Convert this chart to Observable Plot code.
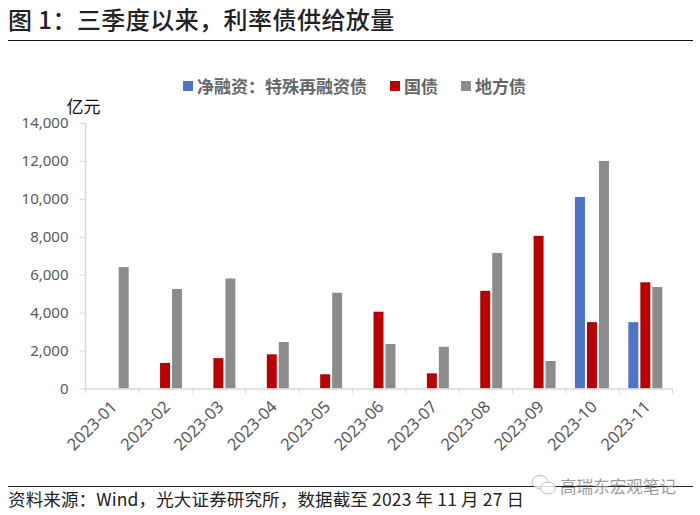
<!DOCTYPE html>
<html><head><meta charset="utf-8">
<script src="https://cdn.jsdelivr.net/npm/d3@7"></script>
<script src="https://cdn.jsdelivr.net/npm/@observablehq/plot@0.6"></script>
<style>
html,body{margin:0;padding:0;background:#fff;width:700px;height:515px;overflow:hidden}
body{position:relative;font-family:"Noto Sans CJK SC","Noto Sans",sans-serif}
#title{box-sizing:border-box;height:41px;margin:0 7px 0 8px;border-bottom:1.5px solid #111;font-size:24px;font-weight:500;line-height:37px;color:#222;letter-spacing:.45px;white-space:pre}
#legend{height:59px;display:flex;justify-content:flex-start;padding-left:183px;box-sizing:border-box;align-items:flex-start;padding-top:33px;font-size:17px;font-weight:700;color:#666;line-height:24px}
#legend span.i{display:flex;align-items:center;margin-right:23px}
#legend i{display:inline-block;width:10px;height:10px;margin-right:4px}
#chart{height:386px}
#chart svg{display:block}
#caption{box-sizing:border-box;margin:0 7px 0 8px;border-top:1.5px solid #222;font-size:17.5px;letter-spacing:.15px;line-height:23px;color:#222;white-space:pre}
#mark{position:absolute;left:530px;top:474px;display:flex;align-items:center;font-size:16.6px;color:#8c8c8c;opacity:.85;line-height:22px}
</style></head><body>
<div id="title">图 1：三季度以来，利率债供给放量</div>
<div id="legend"></div>
<div id="chart"></div>
<div id="caption">资料来源：Wind，光大证券研究所，数据截至 2023 年 11 月 27 日</div>
<div id="mark"><svg width="30" height="24" viewBox="0 0 30 24" fill="#fff" stroke="#b5b5b5" stroke-width="1"><ellipse cx="10" cy="8" rx="8" ry="6.5"/><ellipse cx="18" cy="14" rx="7.5" ry="6"/></svg><span>高瑞东宏观笔记</span></div>
<script>
const months = ["2023-01","2023-02","2023-03","2023-04","2023-05","2023-06","2023-07","2023-08","2023-09","2023-10","2023-11"];
const seriesNames = ["净融资：特殊再融资债","国债","地方债"];
const seriesColors = ["#4d74c8","#ba0000","#8c8c8c"];
const refinancing = [0,0,0,0,0,0,0,0,0,10100,3500];
const treasury = [0,1350,1600,1800,750,4050,800,5150,8050,3500,5600];
const local = [6400,5250,5800,2450,5050,2350,2200,7150,1450,12000,5350];
const yTicks = [0,2000,4000,6000,8000,10000,12000,14000];

const slot = 0.225, barW = 0.187;
const rows = [refinancing, treasury, local].flatMap((vals, s) =>
  vals.map((v, i) => ({i, s, v, name: seriesNames[s]})).filter(d => d.v > 0));
const center = d => d.i + 0.5 + (d.s - 1) * slot;

const legend = document.getElementById("legend");
seriesNames.forEach((n, k) => {
  const el = document.createElement("span");
  el.className = "i";
  el.innerHTML = `<i style="background:${seriesColors[k]}"></i>${n}`;
  legend.appendChild(el);
});

const font = '"Noto Sans","Noto Sans CJK SC",sans-serif';
const plot = Plot.plot({
  width: 700, height: 386,
  marginLeft: 85, marginRight: 28, marginTop: 23, marginBottom: 97.5,
  style: {fontFamily: font, fontSize: "15px", background: "transparent", overflow: "visible"},
  x: {domain: [0, months.length], label: null},
  y: {domain: [0, 14000], label: null},
  color: {domain: seriesNames, range: seriesColors},
  marks: [
    Plot.rectY(rows, {x1: d => center(d) - barW / 2, x2: d => center(d) + barW / 2, y: "v", fill: "name"}),
    Plot.ruleY([0], {stroke: "#d9d9d9", strokeWidth: 1.5, strokeOpacity: 1}),
    Plot.ruleX([0], {stroke: "#d9d9d9", strokeWidth: 1.5, strokeOpacity: 1}),
    Plot.axisY({ticks: yTicks, tickFormat: d3.format(","), tickSize: 5, tickPadding: 12, stroke: "#d9d9d9", strokeOpacity: 1, fill: "#595959", label: null}),
    Plot.axisX({ticks: d3.range(months.length + 1), tickFormat: () => "", tickSize: 5, stroke: "#d9d9d9", strokeOpacity: 1, label: null}),
    Plot.axisX({ticks: months.map((m, i) => i + 0.5), tickFormat: d => months[Math.floor(d)], tickSize: 0, tickPadding: 10, tickRotate: -45, fill: "#595959", label: null, textAnchor: "end", fontSize: 16.5, dy: 5, dx: 2}),
    Plot.text(["亿元"], {frameAnchor: "top-left", dx: -19, dy: -16, fill: "#111", fontSize: 17, fontFamily: '"Noto Sans CJK SC"', lineAnchor: "middle", textAnchor: "start"})
  ]
});
document.getElementById("chart").appendChild(plot);
</script>
</body></html>
